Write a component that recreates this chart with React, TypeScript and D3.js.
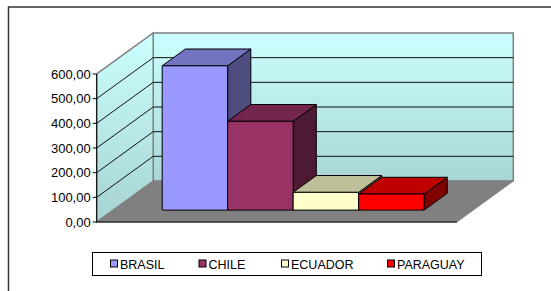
import React from "react";
import * as d3 from "d3";

const categories = ["BRASIL", "CHILE", "ECUADOR", "PARAGUAY"];
const values = [585, 360, 72, 65];
const colors = ["#9999FF", "#993366", "#FFFFCC", "#FF0000"];
const yTicks = [0, 100, 200, 300, 400, 500, 600];
const tickLabel = (v: number) => v.toFixed(2).replace(".", ",");

const W = 551;
const H = 291;
const front = { x0: 96.7, x1: 456.8, yBottom: 222, yTop: 74 };
const depth = { dx: 56.5, dy: -41 };
const barDepth = { f0: 0.29, f1: 0.7 };

export default function App() {
  const y = d3.scaleLinear().domain([0, 600]).range([front.yBottom, front.yTop]);
  const x = d3
    .scaleBand<string>()
    .domain(categories)
    .range([front.x0, front.x1])
    .paddingInner(0)
    .paddingOuter(0.75);

  const P = (px: number, py: number, f: number) => [px + depth.dx * f, py + depth.dy * f];
  const poly = (pts: number[][]) => pts.map((p) => p.join(",")).join(" ");

  const shade = (c: string, k: number) => {
    const col = d3.rgb(c);
    return d3.rgb(col.r * k, col.g * k, col.b * k).formatHex();
  };

  const backWall = [
    P(front.x0, y(0), 1),
    P(front.x1, y(0), 1),
    P(front.x1, y(600), 1),
    P(front.x0, y(600), 1),
  ];
  const leftWall = [
    P(front.x0, y(0), 0),
    P(front.x0, y(0), 1),
    P(front.x0, y(600), 1),
    P(front.x0, y(600), 0),
  ];
  const floor = [
    P(front.x0, y(0), 0),
    P(front.x1, y(0), 0),
    P(front.x1, y(0), 1),
    P(front.x0, y(0), 1),
  ];

  const legendItems = [
    { sq: 110.5, tx: 120 },
    { sq: 199, tx: 208.5 },
    { sq: 281.5, tx: 291 },
    { sq: 387.5, tx: 397 },
  ];

  return (
    <svg
      width={W}
      height={H}
      style={{ position: "absolute", left: 0, top: 0, background: "#fff" }}
      fontFamily="'Liberation Sans', Arial, sans-serif"
    >
      <defs>
        <linearGradient id="wallGrad" gradientUnits="userSpaceOnUse" x1="0" y1={y(600) + depth.dy} x2="0" y2={y(0) + depth.dy}>
          <stop offset="0" stopColor="#CCFFFF" />
          <stop offset="1" stopColor="#A8D6D6" />
        </linearGradient>
        <linearGradient id="leftGrad" gradientUnits="userSpaceOnUse" x1="0" y1={y(600) + depth.dy} x2="0" y2={y(0)}>
          <stop offset="0" stopColor="#CCFFFF" />
          <stop offset="1" stopColor="#A6D3D3" />
        </linearGradient>
      </defs>
      <rect x={8.5} y={7} width={W} height={H} fill="#fff" stroke="#333" strokeWidth={1.5} />

      <polygon points={poly(backWall)} fill="url(#wallGrad)" stroke="#808080" strokeWidth={1.5} />
      <polygon points={poly(leftWall)} fill="url(#leftGrad)" stroke="#808080" strokeWidth={1.5} />
      <polygon points={poly(floor)} fill="#808080" stroke="#808080" strokeWidth={1} />

      {yTicks
        .filter((t) => t > 0 && t < 600)
        .map((t) => {
          const a = P(front.x0, y(t), 0);
          const b = P(front.x0, y(t), 1);
          const c = P(front.x1, y(t), 1);
          return (
            <polyline key={t} points={poly([a, b, c])} fill="none" stroke="#111" strokeWidth={1} />
          );
        })}

      <line x1={front.x0} y1={y(0)} x2={front.x0} y2={y(600)} stroke="#000" strokeWidth={1} />
      <line x1={front.x0} y1={y(0)} x2={front.x1} y2={y(0)} stroke="#000" strokeWidth={1.2} />
      {yTicks.map((t) => (
        <g key={t}>
          <line x1={front.x0 - 4} y1={y(t)} x2={front.x0} y2={y(t)} stroke="#000" />
          <text x={front.x0 - 6} y={y(t)} dy="0.36em" textAnchor="end" fontSize={13} fill="#000">
            {tickLabel(t)}
          </text>
        </g>
      ))}

      {categories.map((c, i) => {
        const x0 = x(c)!;
        const x1 = x0 + x.bandwidth();
        const yt = y(values[i]);
        const yb = y(0);
        const f0 = barDepth.f0;
        const f1 = barDepth.f1;
        const frontFace = [P(x0, yb, f0), P(x1, yb, f0), P(x1, yt, f0), P(x0, yt, f0)];
        const topFace = [P(x0, yt, f0), P(x1, yt, f0), P(x1, yt, f1), P(x0, yt, f1)];
        const sideFace = [P(x1, yb, f0), P(x1, yb, f1), P(x1, yt, f1), P(x1, yt, f0)];
        return (
          <g key={c} stroke="#000" strokeWidth={1} strokeLinejoin="round">
            <polygon points={poly(sideFace)} fill={shade(colors[i], 0.5)} />
            <polygon points={poly(topFace)} fill={shade(colors[i], 0.75)} />
            <polygon points={poly(frontFace)} fill={colors[i]} />
          </g>
        );
      })}

      <rect x={92.5} y={252.5} width={389} height={23} fill="#fff" stroke="#000" strokeWidth={1} />
      {categories.map((c, i) => (
        <g key={c}>
          <rect x={legendItems[i].sq} y={260} width={7} height={7} fill={colors[i]} stroke="#000" strokeWidth={1} />
          <text x={legendItems[i].tx} y={268.5} fontSize={12.5} fill="#000">
            {c}
          </text>
        </g>
      ))}
    </svg>
  );
}
